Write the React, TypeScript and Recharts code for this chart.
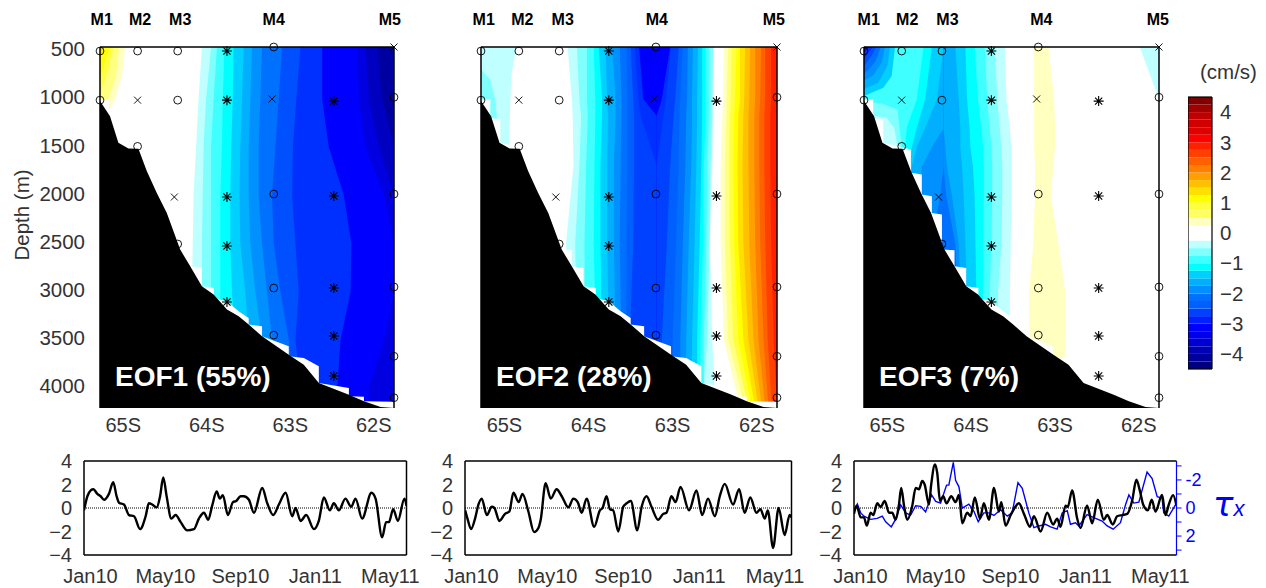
import { Area, ComposedChart, Line, LineChart, ReferenceLine, Scatter, XAxis, YAxis } from "recharts";

const FONT = "'Liberation Sans', sans-serif";
const GREY = "#333";
const WEST = -65.35;
const EAST = -61.83;
const TOP_DEPTH = 458;
const BOTTOM_DEPTH = 4207;

// ---- section panels: latitude of each contour at each depth ----
const eof1Depths = [458, 1000, 1500, 2000, 2500, 3000, 3500, 4000, 4207];
const eof1Colors = ["#c0ffff", "#80ffff", "#40ffff", "#00ffff", "#00d0ff", "#00b0ff", "#0090ff", "#0070ff", "#0050ff", "#0030ff", "#0000ff", "#0000e0", "#0000c0", "#0000a0"];
const eof1Bounds = [
  [-64.13, -64.17, -64.2, -64.23, -64.24, -64.25, -64.25, -64.25, -64.25],
  [-64.02, -64.08, -64.11, -64.12, -64.13, -64.13, -64.13, -64.13, -64.13],
  [-63.95, -63.99, -64.02, -64.02, -64.02, -64.02, -64.02, -64.02, -64.02],
  [-63.86, -63.88, -63.89, -63.91, -63.91, -63.91, -63.91, -63.91, -63.91],
  [-63.75, -63.76, -63.78, -63.79, -63.79, -63.77, -63.73, -63.73, -63.73],
  [-63.63, -63.65, -63.67, -63.68, -63.67, -63.61, -63.57, -63.57, -63.57],
  [-63.53, -63.55, -63.57, -63.57, -63.55, -63.49, -63.41, -63.41, -63.41],
  [-63.41, -63.43, -63.45, -63.45, -63.41, -63.35, -63.29, -63.29, -63.29],
  [-63.17, -63.21, -63.25, -63.29, -63.27, -63.19, -63.09, -63.03, -63.03],
  [-62.95, -63.0, -63.04, -63.05, -63.01, -62.97, -63.01, -62.95, -62.95],
  [-62.69, -62.69, -62.61, -62.43, -62.34, -62.35, -62.47, -62.51, -62.51],
  [-62.27, -62.25, -62.17, -61.95, -61.83, -61.83, -61.95, -62.13, -62.13],
  [-62.17, -62.13, -62.01, -61.83, -61.83, -61.83, -61.83, -61.83, -61.83],
  [-62.03, -61.97, -61.83, -61.83, -61.83, -61.83, -61.83, -61.83, -61.83],
];
// patches hanging off the western wall: [depth, lat]
const eof1WallColors = ["#ffffc0", "#ffff80", "#ffff40", "#ffff00", "#ffe000"];
const eof1Wall = [
  [[458, -65.05], [760, -65.09], [1002, -65.17], [1124, -65.25], [1200, -65.25]],
  [[458, -65.12], [760, -65.16], [1002, -65.25], [1040, -65.3]],
  [[458, -65.19], [690, -65.25], [898, -65.33], [968, -65.35]],
  [[458, -65.23], [570, -65.28], [725, -65.33], [777, -65.35]],
  [[458, -65.3], [570, -65.35]],
];

const eof2Depths = [458, 1000, 1175, 1690, 2500, 3500, 4207];
const eof2Colors = ["#c0ffff", "#80ffff", "#40ffff", "#00ffff", "#00d0ff", "#00b0ff", "#0090ff", "#0070ff", "#0060ff", "#0040ff", "#0030ff", "#0000ff", "#0030ff", "#0040ff", "#0060ff", "#0070ff", "#0090ff", "#00b0ff", "#00d0ff", "#00ffff", "#40ffff", "#80ffff", "#c0ffff", "#ffffff", "#ffffc0", "#ffff80", "#ffff40", "#ffff00", "#ffe000", "#ffc000", "#ffa000", "#ff8000", "#ff6000", "#ff4000", "#ff2000"];
const eof2Bounds = [
  [-64.32, -64.27, -64.26, -64.25, -64.34, -64.27, -64.25],
  [-64.21, -64.18, -64.16, -64.18, -64.23, -64.21, -64.21],
  [-64.09, -64.09, -64.08, -64.1, -64.12, -64.11, -64.11],
  [-64.01, -63.99, -63.99, -64.0, -64.01, -63.98, -63.98],
  [-63.95, -63.91, -63.91, -63.93, -63.93, -63.91, -63.91],
  [-63.87, -63.85, -63.84, -63.85, -63.85, -63.83, -63.83],
  [-63.79, -63.75, -63.75, -63.77, -63.77, -63.75, -63.75],
  [-63.7, -63.68, -63.68, -63.69, -63.7, -63.68, -63.68],
  [-63.62, -63.61, -63.61, -63.61, -63.62, -63.62, -63.62],
  [-63.57, -63.54, -63.53, -63.53, -63.54, -63.58, -63.58],
  [-63.52, -63.48, -63.45, -63.26, -63.26, -63.26, -63.26],
  [-63.47, -63.42, -63.26, -63.26, -63.26, -63.26, -63.26],
  [-63.1, -63.2, -63.26, -63.26, -63.26, -63.26, -63.26],
  [-63.09, -63.15, -63.18, -63.26, -63.26, -63.26, -63.26],
  [-63.0, -63.04, -63.06, -63.1, -63.14, -63.2, -63.2],
  [-62.95, -62.98, -62.99, -63.0, -63.03, -63.07, -63.07],
  [-62.89, -62.9, -62.91, -62.92, -62.95, -62.98, -62.98],
  [-62.83, -62.84, -62.84, -62.85, -62.88, -62.91, -62.91],
  [-62.77, -62.78, -62.78, -62.79, -62.81, -62.84, -62.84],
  [-62.72, -62.72, -62.72, -62.73, -62.75, -62.78, -62.78],
  [-62.68, -62.68, -62.68, -62.7, -62.71, -62.74, -62.74],
  [-62.64, -62.64, -62.64, -62.66, -62.67, -62.7, -62.7],
  [-62.59, -62.6, -62.6, -62.62, -62.63, -62.66, -62.72],
  [-62.58, -62.59, -62.59, -62.6, -62.63, -62.6, -62.56],
  [-62.46, -62.47, -62.48, -62.5, -62.5, -62.46, -62.27],
  [-62.41, -62.43, -62.43, -62.45, -62.45, -62.41, -62.21],
  [-62.37, -62.38, -62.39, -62.4, -62.39, -62.35, -62.17],
  [-62.31, -62.33, -62.34, -62.35, -62.34, -62.29, -62.13],
  [-62.27, -62.27, -62.29, -62.3, -62.29, -62.23, -62.09],
  [-62.21, -62.22, -62.23, -62.24, -62.23, -62.17, -62.05],
  [-62.15, -62.16, -62.17, -62.17, -62.16, -62.11, -62.01],
  [-62.09, -62.09, -62.1, -62.1, -62.09, -62.05, -61.97],
  [-62.02, -62.03, -62.04, -62.04, -62.03, -61.99, -61.93],
  [-61.97, -61.97, -61.98, -61.98, -61.97, -61.94, -61.89],
  [-61.9, -61.9, -61.91, -61.91, -61.9, -61.87, -61.83],
];
const eof2WallColors = ["#c0ffff", "#80ffff"];
const eof2Wall = [
  [[458, -64.93], [760, -64.99], [1002, -65.0], [1505, -65.02]],
  [[690, -65.35], [795, -65.24], [1002, -65.18], [1210, -65.16]],
];

const eof3Depths = [458, 1000, 1300, 1500, 1700, 2000, 2500, 3000, 4207];
const eof3Colors = ["#40ffff", "#00ffff", "#00d0ff", "#00b0ff", "#0090ff", "#0070ff", "#0090ff", "#00b0ff", "#00d0ff", "#00ffff", "#40ffff", "#80ffff", "#c0ffff", "#ffffff", "#ffffc0", "#ffffff", "#c0ffff"];
const eof3Bounds = [
  [-65.35, -65.35, -65.35, -65.35, -65.35, -65.35, -65.35, -65.35, -65.35],
  [-64.64, -64.72, -64.84, -64.86, -64.88, -64.9, -64.9, -64.9, -64.9],
  [-64.54, -64.62, -64.72, -64.78, -64.8, -64.82, -64.82, -64.82, -64.82],
  [-64.4, -64.48, -64.62, -64.72, -64.78, -64.8, -64.8, -64.8, -64.8],
  [-64.4, -64.4, -64.4, -64.54, -64.66, -64.68, -64.68, -64.68, -64.68],
  [-64.4, -64.4, -64.4, -64.4, -64.4, -64.44, -64.54, -64.54, -64.54],
  [-64.4, -64.4, -64.4, -64.4, -64.4, -64.37, -64.26, -64.24, -64.24],
  [-64.4, -64.4, -64.4, -64.38, -64.36, -64.3, -64.22, -64.2, -64.2],
  [-64.26, -64.22, -64.2, -64.2, -64.18, -64.16, -64.14, -64.12, -64.12],
  [-64.14, -64.12, -64.09, -64.08, -64.05, -64.03, -64.02, -64.01, -64.01],
  [-64.03, -63.99, -63.95, -63.93, -63.92, -63.92, -63.93, -63.93, -63.93],
  [-63.91, -63.88, -63.85, -63.83, -63.82, -63.82, -63.83, -63.85, -63.85],
  [-63.79, -63.76, -63.73, -63.71, -63.7, -63.7, -63.71, -63.75, -63.75],
  [-63.67, -63.65, -63.61, -63.59, -63.59, -63.59, -63.6, -63.61, -63.61],
  [-63.32, -63.32, -63.32, -63.32, -63.31, -63.31, -63.33, -63.38, -63.37],
  [-63.15, -63.08, -63.07, -63.07, -63.09, -63.12, -63.03, -62.95, -62.94],
  [-62.06, -61.83, -61.83, -61.83, -61.83, -61.83, -61.83, -61.83, -61.83],
];
const eof3WallColors = ["#00d0ff", "#00b0ff", "#0090ff", "#0070ff", "#0050ff", "#0030ff", "#0000ff", "#80ffff", "#c0ffff"];
const eof3Wall = [
  [[458, -64.98], [760, -65.02], [881, -65.12], [968, -65.35]],
  [[458, -65.04], [656, -65.07], [829, -65.18], [898, -65.35]],
  [[458, -65.1], [621, -65.14], [753, -65.24], [805, -65.35]],
  [[458, -65.15], [604, -65.21], [698, -65.3], [732, -65.35]],
  [[458, -65.2], [552, -65.26], [656, -65.35]],
  [[458, -65.24], [517, -65.3], [580, -65.35]],
  [[458, -65.29], [517, -65.35]],
  [[1020, -65.35], [1044, -65.14], [1106, -64.95], [1349, -64.92], [1505, -64.9]],
  [[1158, -65.35], [1193, -65.08], [1297, -64.99], [1488, -64.95]],
];

// seabed, and the stepped edge of the gridded field above it
const seabed = [[1020, -65.35], [1176, -65.23], [1453, -65.13], [1512, -65.01], [1514, -64.89], [1747, -64.79], [1973, -64.67], [2181, -64.55], [2562, -64.39], [2735, -64.27], [2943, -64.13], [3029, -63.99], [3185, -63.83], [3255, -63.69], [3341, -63.57], [3463, -63.41], [3653, -63.09], [3757, -62.91], [3948, -62.73], [4069, -62.37], [4138, -62.19], [4197, -61.99], [4207, -61.83]];
const gridEdge = [[1002, -65.24], [1193, -65.24], [1210, -65.12], [1453, -65.12], [1522, -64.79], [1765, -64.79], [1782, -64.66], [1990, -64.66], [2007, -64.54], [2181, -64.54], [2198, -64.42], [2562, -64.42], [2570, -64.27], [2735, -64.27], [2752, -64.13], [2943, -64.13], [2960, -63.985], [3064, -63.985], [3099, -63.83], [3203, -63.69], [3272, -63.57], [3341, -63.57], [3359, -63.41], [3463, -63.41], [3567, -63.09], [3670, -63.09], [3688, -62.91], [3774, -62.73], [3948, -62.73], [4000, -62.37], [4086, -62.37], [4090, -62.19], [4138, -62.19], [4142, -61.83], [4207, -61.83]];

// instrument positions
const circles = [[-65.35, 500], [-65.35, 1010], [-64.9, 500], [-64.9, 1490], [-64.42, 500], [-64.42, 1010], [-64.42, 2504], [-63.27, 458], [-63.27, 1985], [-63.27, 2961], [-63.27, 3450], [-61.83, 980], [-61.83, 1985], [-61.83, 2950], [-61.83, 3670], [-61.83, 4100]];
const crosses = [[-64.9, 1010], [-64.46, 2016], [-63.29, 998], [-61.83, 458]];
const stars = [[-63.83, 500], [-63.83, 1010], [-63.83, 2016], [-63.83, 2525], [-63.83, 3106], [-62.55, 1020], [-62.55, 2005], [-62.55, 2961], [-62.55, 3460], [-62.55, 3875]];

const mooringNames = ["M1", "M2", "M3", "M4", "M5"];
const mooringLats = [-65.33, -64.87, -64.39, -63.27, -61.88];
const latTicks = [-65, -64, -63, -62];
const latMinorTicks = [-64.5, -64, -63.5, -63, -62.5, -62];
const depthTicks = [500, 1000, 1500, 2000, 2500, 3000, 3500, 4000];
const depthRightTicks = [1500, 2500, 3500, 4000];

// ---- colour bar ----
const barLevels = [-4.5, -4.25, -4, -3.75, -3.5, -3.25, -3, -2.75, -2.5, -2.25, -2, -1.75, -1.5, -1.25, -1, -0.75, -0.5, -0.25, 0, 0.25, 0.5, 0.75, 1, 1.25, 1.5, 1.75, 2, 2.25, 2.5, 2.75, 3, 3.25, 3.5, 3.75, 4, 4.25];
const barColors = ["#000080", "#00009a", "#0000b5", "#0000d0", "#0000ea", "#0000ff", "#0020ff", "#0040ff", "#0060ff", "#0070ff", "#0090ff", "#00b0ff", "#00d0ff", "#00ffff", "#40ffff", "#80ffff", "#c0ffff", "#ffffff", "#ffffff", "#ffffc0", "#ffff60", "#ffff40", "#ffff00", "#ffe000", "#ffc000", "#ffa000", "#ff8000", "#ff6000", "#ff4000", "#ff2000", "#ff0000", "#e00000", "#d00000", "#c00000", "#a00000", "#800000"];
const barTicks = [-4, -3, -2, -1, 0, 1, 2, 3, 4];

// ---- principal component time series: months since Jan 2010, amplitude ----
const pc1Months = [0.08, 0.26, 0.44, 0.58, 0.79, 0.97, 1.15, 1.41, 1.64, 1.82, 1.95, 2.21, 2.48, 2.75, 3.07, 3.37, 3.54, 3.72, 3.96, 4.14, 4.31, 4.49, 4.74, 4.97, 5.24, 5.59, 5.95, 6.21, 6.48, 6.71, 6.92, 7.16, 7.33, 7.49, 7.76, 8.03, 8.2, 8.44, 8.61, 8.88, 9.15, 9.59, 9.86, 10.18, 10.48, 10.84, 11.19, 11.37, 11.64, 11.94, 12.35, 12.61, 12.88, 13.2, 13.41, 13.68, 14.03, 14.34, 14.57, 14.92, 15.42, 15.64, 15.99, 16.2, 16.35, 16.58, 16.83, 17.18, 17.29];
const pc1Values = [-0.2, 1.0, 1.5, 1.6, 1.2, 1.0, 0.7, 1.2, 2.2, 1.0, 0.45, 0.3, -0.6, -0.7, -1.8, -0.7, 0.4, 0.3, 0.05, 1.0, 2.6, 1.0, -0.9, -0.6, -1.2, -1.9, -1.8, -0.9, -0.4, -1.0, 0.2, 1.4, 0.8, 1.1, -0.6, 0.5, 0.6, 1.0, 1.0, 0.7, -0.4, 1.7, 0.4, -0.6, 0.3, 1.3, -0.7, 0.0, -1.1, -0.6, -1.8, -1.1, 0.9, -0.2, 0.4, -0.2, 0.8, 0.1, 0.8, -0.9, 1.3, 0.8, -2.5, -1.2, -1.2, -0.1, -1.1, 0.8, 0.2];
const pc2Months = [0.09, 0.21, 0.4, 0.61, 0.79, 0.96, 1.23, 1.49, 1.63, 1.89, 2.19, 2.42, 2.63, 2.91, 3.11, 3.42, 3.72, 3.95, 4.07, 4.33, 4.6, 4.91, 5.18, 5.53, 5.79, 6.02, 6.23, 6.49, 6.89, 7.19, 7.33, 7.54, 7.72, 7.89, 8.16, 8.42, 8.6, 8.82, 9.16, 9.39, 9.65, 9.91, 10.26, 10.53, 10.7, 10.96, 11.18, 11.44, 11.89, 12.28, 12.58, 12.89, 13.25, 13.51, 13.77, 14.21, 14.53, 14.82, 15.12, 15.44, 15.65, 15.88, 16.04, 16.32, 16.61, 16.93, 17.19, 17.28];
const pc2Values = [-0.2, -0.9, -1.8, -0.9, 0.3, 0.8, -0.6, 0.1, 0.0, -1.1, -0.5, -0.3, 1.3, 0.5, 1.2, -0.3, -2.05, -1.7, -1.0, 2.1, 0.8, 1.6, 1.0, 0.05, 0.8, 0.5, -0.4, 0.8, -1.6, -0.2, 0.0, 1.0, -0.1, -0.2, -2.0, 0.1, 0.4, 0.6, -1.9, 0.1, 1.0, 0.1, -1.0, -0.5, -0.4, 1.0, 0.5, 1.8, -0.2, 1.5, -0.6, 0.8, -0.7, 1.0, 2.05, 0.3, 1.6, -0.4, 0.9, -0.4, -0.1, -0.9, -0.2, -3.4, 0.0, -2.3, -0.6, -0.8];
const pc3Months = [0.08, 0.22, 0.44, 0.61, 0.76, 0.97, 1.11, 1.32, 1.5, 1.72, 1.95, 2.12, 2.3, 2.48, 2.6, 2.75, 2.92, 3.19, 3.37, 3.55, 3.72, 3.85, 4.08, 4.2, 4.4, 4.52, 4.67, 4.84, 5.02, 5.27, 5.5, 5.68, 5.86, 6.12, 6.3, 6.53, 6.8, 7.01, 7.28, 7.55, 7.81, 7.94, 8.17, 8.44, 8.65, 8.88, 9.15, 9.47, 9.68, 10.04, 10.39, 10.71, 10.92, 11.1, 11.37, 11.49, 11.72, 11.99, 12.17, 12.52, 12.79, 13.09, 13.41, 13.59, 13.89, 14.12, 14.39, 14.66, 14.92, 15.15, 15.33, 15.51, 15.76, 15.97, 16.17, 16.52, 16.7, 16.88, 17.11, 17.29];
const pc3Values = [-0.5, 0.2, -0.8, -0.8, -1.5, -0.4, -0.6, 0.4, 0.1, 0.6, -0.4, -0.4, -1.0, 0.3, 1.7, 0.2, -1.0, 0.2, 1.7, 1.6, 2.3, 2.0, 0.3, 2.0, 3.7, 3.0, 0.6, 1.0, 0.4, 1.0, 0.5, 1.1, -1.3, -0.4, -0.7, 0.9, -0.9, 0.4, -1.0, 1.7, -0.3, 0.5, -1.5, -0.6, 0.0, 0.4, -0.5, -1.6, -0.7, -2.0, -0.4, -1.4, -0.9, -1.6, 0.2, 0.1, 1.5, -0.9, -1.7, 0.2, -1.3, 0.7, -1.0, -0.6, -1.4, -0.7, -0.6, -0.5, 0.6, 2.4, 1.5, 0.3, -0.2, 0.7, -0.3, 1.1, -0.6, 0.3, 1.1, 0.2];
const tauMonths = [0.08, 0.26, 0.44, 0.61, 0.97, 1.32, 1.59, 1.77, 2.07, 2.3, 2.57, 2.84, 3.1, 3.37, 3.64, 3.9, 4.22, 4.44, 4.7, 5.02, 5.14, 5.38, 5.5, 5.68, 5.86, 6.21, 6.48, 6.71, 7.01, 7.28, 7.55, 7.9, 8.26, 8.52, 8.83, 9.06, 9.41, 9.68, 9.95, 10.3, 10.57, 10.92, 11.19, 11.46, 11.63, 11.9, 12.08, 12.52, 12.97, 13.32, 13.59, 13.91, 14.3, 14.57, 14.75, 15.01, 15.28, 15.72, 15.99, 16.26, 16.52, 16.61, 16.88, 17.29];
const tauValues = [0.23, -0.28, 0.35, 0.58, 0.81, 0.74, 0.58, 0.98, 1.35, 0.81, -0.23, 0.35, 0.51, -0.16, -0.12, 0.28, -0.93, -0.47, -0.35, -1.63, -1.63, -3.26, -1.98, -1.51, 0.0, -0.28, 0.23, 0.98, 0.35, 0.35, 0.53, 0.12, 0.58, 0.35, -1.81, -1.4, 0.35, 1.4, 1.28, 1.16, 1.35, 1.51, 0.35, 0.19, 1.16, 1.05, 1.28, 0.47, 0.74, 0.93, 1.28, 1.51, 1.05, -0.23, -0.93, -0.35, -0.42, -2.56, -2.09, -0.81, -0.7, 0.35, 0.58, -0.35];

const monthTicks = [2, 4, 6, 8, 10, 12, 14, 16];
const monthLabelTicks = [0, 4, 8, 12, 16];
const monthLabels = ["Jan10", "May10", "Sep10", "Jan11", "May11"];
const pcTicks = [-4, -2, 0, 2, 4];
const tauTicks = [-3, -2, -1, 0, 1, 2, 3];

const minus = (v: number) => String(v).replace("-", "\u2212");

const toRows = (xs: number[], ys: number[]) => xs.map((m, i) => ({ m, v: ys[i] }));

const bandRows = (depths: number[], lats: number[]) => depths.map((depth, i) => ({ depth, range: [lats[i], EAST] }));
const wallRows = (points: number[][]) => points.map(([depth, lat]) => ({ depth, range: [WEST, lat] }));
const markerRows = (points: number[][]) => points.map(([lat, depth]) => ({ lat, depth }));
const barRows = (lo: number) => [{ level: lo, range: [0, 1] }, { level: lo + 0.25, range: [0, 1] }];

const Circle = (p: any) => <circle cx={p.cx} cy={p.cy} r={3.9} fill="none" stroke="#000" strokeWidth={0.9} />;
const Cross = (p: any) => (
  <path d={`M${p.cx - 3.5} ${p.cy - 3.5}L${p.cx + 3.5} ${p.cy + 3.5}M${p.cx - 3.5} ${p.cy + 3.5}L${p.cx + 3.5} ${p.cy - 3.5}`} stroke="#000" strokeWidth={0.9} fill="none" />
);
const Star = (p: any) => (
  <path
    d={`M${p.cx - 3.6} ${p.cy - 3.6}L${p.cx + 3.6} ${p.cy + 3.6}M${p.cx - 3.6} ${p.cy + 3.6}L${p.cx + 3.6} ${p.cy - 3.6}M${p.cx - 5} ${p.cy}L${p.cx + 5} ${p.cy}M${p.cx} ${p.cy - 5}L${p.cx} ${p.cy + 5}`}
    stroke="#000"
    strokeWidth={1.1}
    fill="none"
  />
);

type SectionProps = {
  plotLeft: number;
  plotWidth: number;
  depths: number[];
  colors: string[];
  bounds: number[][];
  wallColors: string[];
  wall: number[][][];
  showDepth?: boolean;
  nameShift: number;
};

function Section({ plotLeft, plotWidth, depths, colors, bounds, wallColors, wall, showDepth, nameShift }: SectionProps) {
  const axisW = 100;
  const stroke = { stroke: "#000", strokeWidth: 1.5 };
  return (
    <div style={{ position: "absolute", left: plotLeft - axisW, top: 0 }}>
      <ComposedChart layout="vertical" width={axisW + plotWidth + 20} height={440} margin={{ top: 17, right: 20, bottom: 0, left: 0 }}>
        {colors.map((c, i) => (
          <Area key={"b" + i} data={bandRows(depths, bounds[i])} dataKey="range" xAxisId="lat" yAxisId="depth" type="linear" fill={c} fillOpacity={1} stroke="none" dot={false} activeDot={false} isAnimationActive={false} />
        ))}
        {wallColors.map((c, i) => (
          <Area key={"w" + i} data={wallRows(wall[i])} dataKey="range" xAxisId="lat" yAxisId="depth" type="linear" fill={c} fillOpacity={1} stroke="none" dot={false} activeDot={false} isAnimationActive={false} />
        ))}
        <Area data={wallRows(gridEdge)} dataKey="range" xAxisId="lat" yAxisId="depth" type="linear" fill="#fff" fillOpacity={1} stroke="none" dot={false} activeDot={false} isAnimationActive={false} />
        <Area data={wallRows(seabed)} dataKey="range" xAxisId="lat" yAxisId="depth" type="linear" fill="#000" fillOpacity={1} stroke="none" dot={false} activeDot={false} isAnimationActive={false} />
        <Scatter data={markerRows(circles)} xAxisId="lat" yAxisId="depth" shape={Circle} isAnimationActive={false} />
        <Scatter data={markerRows(crosses)} xAxisId="lat" yAxisId="depth" shape={Cross} isAnimationActive={false} />
        <Scatter data={markerRows(stars)} xAxisId="lat" yAxisId="depth" shape={Star} isAnimationActive={false} />
        <XAxis
          xAxisId="lat"
          dataKey="lat"
          type="number"
          domain={[WEST, EAST]}
          ticks={latTicks}
          interval={0}
          height={32}
          axisLine={false}
          tickLine={false}
          tickMargin={4}
          tick={{ fontFamily: FONT, fontSize: 20, fill: GREY, dx: -6 }}
          tickFormatter={(v: number) => `${-v}S`}
        />
        <XAxis xAxisId="frame" orientation="top" mirror type="number" allowDataOverflow domain={[WEST, EAST]} ticks={latMinorTicks} interval={0} tick={false} tickSize={4} axisLine={stroke} tickLine={{ stroke: "#000", strokeWidth: 1 }} />
        <XAxis
          xAxisId="names"
          orientation="top"
          type="number"
          allowDataOverflow
          domain={[WEST, EAST]}
          ticks={mooringLats}
          interval={0}
          height={30}
          axisLine={false}
          tickLine={false}
          tickMargin={16}
          tick={{ fontFamily: FONT, fontSize: 16, fontWeight: 700, fill: "#000", dx: nameShift }}
          tickFormatter={(_: number, i: number) => mooringNames[i]}
        />
        <YAxis
          yAxisId="depth"
          dataKey="depth"
          type="number"
          width={axisW}
          domain={[TOP_DEPTH, BOTTOM_DEPTH]}
          ticks={depthTicks}
          interval={0}
          axisLine={stroke}
          tickLine={false}
          tickMargin={9}
          tick={showDepth ? { fontFamily: FONT, fontSize: 20.5, fill: GREY, dy: -2 } : false}
        />
        <YAxis yAxisId="right" orientation="right" mirror type="number" allowDataOverflow domain={[TOP_DEPTH, BOTTOM_DEPTH]} ticks={depthRightTicks} interval={0} tick={false} tickSize={4} axisLine={stroke} tickLine={{ stroke: "#000", strokeWidth: 1 }} />
      </ComposedChart>
    </div>
  );
}

function ColorBar() {
  const frame = { stroke: "#000", strokeWidth: 1.2 };
  return (
    <div style={{ position: "absolute", left: 1188, top: 80 }}>
      <ComposedChart layout="vertical" width={78} height={306} margin={{ top: 17, right: 0, bottom: 17, left: 0 }}>
        {barLevels.map((lo, i) => (
          <Area key={lo} data={barRows(lo)} dataKey="range" xAxisId="x" yAxisId="labels" type="linear" fill={barColors[i]} fillOpacity={1} stroke="none" dot={false} activeDot={false} isAnimationActive={false} />
        ))}
        <XAxis xAxisId="x" type="number" allowDataOverflow domain={[0, 1]} hide />
        <XAxis xAxisId="top" orientation="top" mirror type="number" allowDataOverflow domain={[0, 1]} tick={false} tickLine={false} axisLine={frame} />
        <XAxis xAxisId="bottom" mirror type="number" allowDataOverflow domain={[0, 1]} tick={false} tickLine={false} axisLine={frame} />
        <YAxis yAxisId="left" orientation="left" mirror reversed type="number" allowDataOverflow domain={[-4.5, 4.5]} ticks={barTicks} interval={0} tick={false} tickSize={3} axisLine={frame} tickLine={{ stroke: "#000" }} />
        <YAxis yAxisId="frame" orientation="right" mirror reversed type="number" allowDataOverflow domain={[-4.5, 4.5]} ticks={barTicks} interval={0} tick={false} tickSize={3} axisLine={frame} tickLine={{ stroke: "#000" }} />
        <YAxis yAxisId="labels" dataKey="level" orientation="right" width={54} reversed type="number" allowDataOverflow domain={[-4.5, 4.5]} ticks={barTicks} interval={0} axisLine={false} tickLine={false} tickMargin={2} tick={{ fontFamily: FONT, fontSize: 20.5, fill: GREY }} tickFormatter={minus} />
      </ComposedChart>
    </div>
  );
}

type PcProps = { plotLeft: number; plotWidth: number; months: number[]; values: number[]; tau?: boolean };

function PcPanel({ plotLeft, plotWidth, months, values, tau }: PcProps) {
  const axisW = 40;
  const rightW = tau ? 36 : 0;
  const stroke = { stroke: "#000", strokeWidth: 1.5 };
  const blue = "#0000ff";
  const domain = [0.08, 17.29];
  return (
    <div style={{ position: "absolute", left: plotLeft - axisW, top: 445 }}>
      <LineChart width={axisW + plotWidth + rightW + 16} height={143} margin={{ top: 16, right: 16, bottom: 0, left: 0 }}>
        <ReferenceLine xAxisId="labels" yAxisId="pc" y={0} stroke="#000" strokeWidth={1} strokeDasharray="1 1" />
        {tau && <Line data={toRows(tauMonths, tauValues)} dataKey="v" xAxisId="labels" yAxisId="tau" type="linear" stroke={blue} strokeWidth={1.4} dot={false} activeDot={false} isAnimationActive={false} />}
        <Line data={toRows(months, values)} dataKey="v" xAxisId="labels" yAxisId="pc" type="monotone" stroke="#000" strokeWidth={2.4} dot={false} activeDot={false} isAnimationActive={false} />
        <XAxis
          xAxisId="labels"
          dataKey="m"
          type="number"
          domain={domain}
          ticks={monthLabelTicks}
          interval={0}
          height={33}
          allowDataOverflow
          axisLine={stroke}
          tickLine={false}
          tickMargin={8}
          tick={{ fontFamily: FONT, fontSize: 20, fill: GREY, dx: 8 }}
          tickFormatter={(_: number, i: number) => monthLabels[i]}
        />
        <XAxis xAxisId="bottomTicks" mirror type="number" allowDataOverflow domain={domain} ticks={monthTicks} interval={0} tick={false} tickSize={4} axisLine={false} tickLine={{ stroke: "#000" }} />
        <XAxis xAxisId="top" orientation="top" mirror type="number" allowDataOverflow domain={domain} ticks={monthTicks} interval={0} tick={false} tickSize={4} axisLine={stroke} tickLine={{ stroke: "#000" }} />
        <YAxis yAxisId="pc" type="number" width={axisW} domain={[-4, 4]} ticks={pcTicks} interval={0} axisLine={stroke} tickLine={false} tickMargin={6} tick={{ fontFamily: FONT, fontSize: 20, fill: GREY }} tickFormatter={minus} />
        {tau ? (
          <YAxis
            yAxisId="tau"
            orientation="right"
            type="number"
            reversed
            width={rightW}
            domain={[-3.35, 3.35]}
            ticks={tauTicks}
            interval={0}
            axisLine={{ stroke: blue, strokeWidth: 1.2 }}
            tickLine={{ stroke: blue }}
            tickSize={5}
            tickMargin={4}
            tick={{ fontFamily: FONT, fontSize: 18, fill: blue }}
            tickFormatter={(v: number) => (v % 2 === 0 ? String(v) : "")}
          />
        ) : (
          <YAxis yAxisId="frame" orientation="right" mirror type="number" allowDataOverflow domain={[-4, 4]} tick={false} tickLine={false} axisLine={stroke} />
        )}
      </LineChart>
    </div>
  );
}

const eofLabel = (text: string, left: number) => (
  <div style={{ position: "absolute", left, top: 361, font: `700 28px ${FONT}`, color: "#fff", whiteSpace: "nowrap" }}>{text}</div>
);

export default function App() {
  return (
    <div style={{ position: "absolute", left: 0, top: 0, width: 1266, height: 588, overflow: "hidden", background: "#fff", fontFamily: FONT }}>
      <Section plotLeft={100} plotWidth={294} depths={eof1Depths} colors={eof1Colors} bounds={eof1Bounds} wallColors={eof1WallColors} wall={eof1Wall} showDepth nameShift={0} />
      <Section plotLeft={481} plotWidth={296} depths={eof2Depths} colors={eof2Colors} bounds={eof2Bounds} wallColors={eof2WallColors} wall={eof2Wall} nameShift={1} />
      <Section plotLeft={864} plotWidth={295} depths={eof3Depths} colors={eof3Colors} bounds={eof3Bounds} wallColors={eof3WallColors} wall={eof3Wall} nameShift={3} />
      <ColorBar />
      <PcPanel plotLeft={83.5} plotWidth={322.5} months={pc1Months} values={pc1Values} />
      <PcPanel plotLeft={465} plotWidth={326.5} months={pc2Months} values={pc2Values} />
      <PcPanel plotLeft={853.5} plotWidth={322.5} months={pc3Months} values={pc3Values} tau />
      {eofLabel("EOF1 (55%)", 115)}
      {eofLabel("EOF2 (28%)", 496)}
      {eofLabel("EOF3 (7%)", 879)}
      <div style={{ position: "absolute", left: 22, top: 215, transform: "translate(-50%,-50%) rotate(-90deg)", font: `20.5px ${FONT}`, color: GREY, whiteSpace: "nowrap" }}>Depth (m)</div>
      <div style={{ position: "absolute", left: 1200, top: 60, font: `20.5px ${FONT}`, color: GREY }}>(cm/s)</div>
      <div style={{ position: "absolute", left: 1213, top: 484, color: "#0000ff", whiteSpace: "nowrap" }}>
        <span style={{ font: `italic 34px 'DejaVu Sans', sans-serif` }}>τ</span>
        <span style={{ font: `italic 22px ${FONT}` }}>x</span>
      </div>
    </div>
  );
}
